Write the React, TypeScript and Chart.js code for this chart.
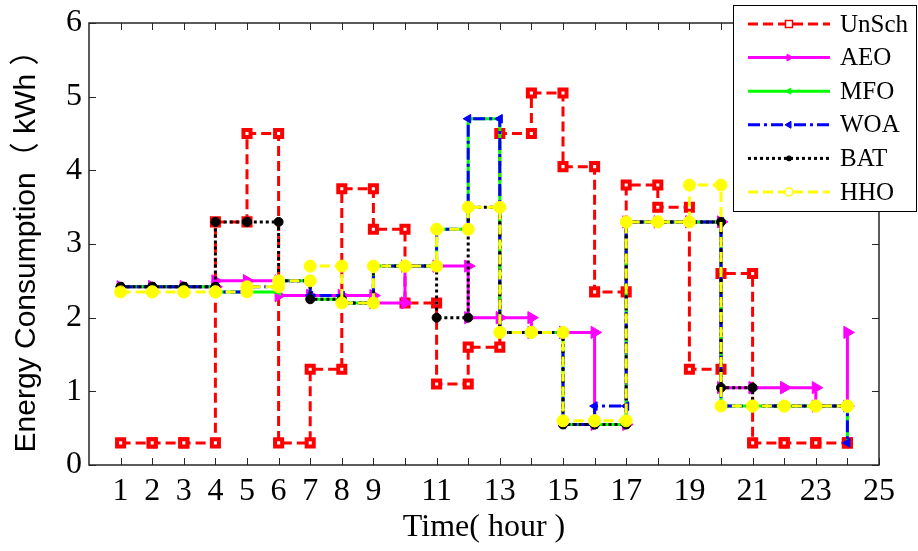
import React, { useEffect, useRef } from 'react';
import { Chart, registerables } from 'chart.js';
import { drawPoint } from 'chart.js/helpers';

Chart.register(...registerables);

// ---- data ----
const hours = [1, 2, 3, 4, 5, 6, 7, 8, 9, 10, 11, 12, 13, 14, 15, 16, 17, 18, 19, 20, 21, 22, 23, 24];
const seriesNames = ['UnSch', 'AEO', 'MFO', 'WOA', 'BAT', 'HHO'];
const unsch = [0.3, 0.3, 0.3, 3.3, 4.5, 0.3, 1.3, 3.75, 3.2, 2.2, 1.1, 1.6, 4.5, 5.05, 4.05, 2.35, 3.8, 3.5, 1.3, 2.6, 0.3, 0.3, 0.3, 0.3];
const aeo = [2.42, 2.42, 2.42, 2.5, 2.5, 2.3, 2.3, 2.3, 2.2, 2.7, 2.7, 2.0, 2.0, 1.8, 1.8, 0.55, 3.3, 3.3, 3.3, 1.05, 1.05, 1.05, 0.8, 1.8];
const mfo = [2.42, 2.42, 2.42, 2.35, 2.35, 2.5, 2.25, 2.2, 2.7, 2.7, 3.2, 4.7, 1.8, 1.8, 0.55, 0.55, 3.3, 3.3, 3.3, 0.8, 0.8, 0.8, 0.8, 0.3];
const woa = [2.42, 2.42, 2.42, 2.35, 2.42, 2.5, 2.3, 2.2, 2.7, 2.7, 3.2, 4.7, 1.8, 1.8, 0.55, 0.8, 3.3, 3.3, 3.3, 0.8, 0.8, 0.8, 0.8, 0.3];
const bat = [2.42, 2.42, 2.42, 3.3, 3.3, 2.5, 2.25, 2.2, 2.7, 2.7, 2.0, 3.5, 1.8, 1.8, 0.55, 0.55, 3.3, 3.3, 3.3, 1.05, 0.8, 0.8, 0.8, 0.8];
const hho = [2.35, 2.35, 2.35, 2.35, 2.42, 2.5, 2.7, 2.2, 2.7, 2.7, 3.2, 3.5, 1.8, 1.8, 0.6, 0.6, 3.3, 3.3, 3.8, 0.8, 0.8, 0.8, 0.8, 0.8];
const xTickLabels = [1, 2, 3, 4, 5, 6, 7, 8, 9, 11, 13, 15, 17, 19, 21, 23, 25];
const yTickValues = [0, 1, 2, 3, 4, 5, 6];

// stairs vertices (like MATLAB stairs): markers at every corner
function stairs(values: number[]) {
  const pts: { x: number; y: number }[] = [];
  for (let i = 0; i < values.length; i++) {
    pts.push({ x: hours[i], y: values[i] });
    if (i < values.length - 1) pts.push({ x: hours[i + 1], y: values[i] });
  }
  return pts;
}

const SERIF = '"Liberation Serif", "Times New Roman", serif';
const SANS = '"Liberation Sans", Arial, "Noto Sans CJK SC", sans-serif';

const styles = [
  { color: '#FF0000', dash: [10, 5], pointStyle: 'rect', rotation: 0, radius: 5, bg: '#FFFFFF', pbw: 4, lr: 5, lbg: '#FFFFFF', lbw: 1.5 },
  { color: '#FF00FF', dash: [], pointStyle: 'triangle', rotation: 90, radius: 7, bg: '#FF00FF', pbw: 1, lr: 4, lbg: '#FF00FF', lbw: 1 },
  { color: '#00FF00', dash: [], pointStyle: 'triangle', rotation: -90, radius: 4, bg: '#00FF00', pbw: 1, lr: 3.5, lbg: '#00FF00', lbw: 1 },
  { color: '#0000FF', dash: [12, 4, 3, 4], pointStyle: 'triangle', rotation: -90, radius: 5, bg: '#0000FF', pbw: 1, lr: 4, lbg: '#0000FF', lbw: 1 },
  { color: '#000000', dash: [3, 3], pointStyle: 'circle', rotation: 0, radius: 4.5, bg: '#000000', pbw: 1, lr: 2.5, lbg: '#000000', lbw: 1 },
  { color: '#FFFF00', dash: [10, 5], pointStyle: 'circle', rotation: 0, radius: 6, bg: '#FFFF00', pbw: 1, lr: 4, lbg: '#FFFFFF', lbw: 1.5 },
];

const seriesValues = [unsch, aeo, mfo, woa, bat, hho];

const framePlugin = {
  id: 'frame',
  afterDatasetsDraw(chart: any) {
    const { ctx, chartArea: a, scales } = chart;
    const x = scales.x;
    const y = scales.y;
    ctx.save();
    ctx.strokeStyle = '#262626';
    ctx.lineWidth = 1;
    ctx.setLineDash([]);
    const seg = (x1: number, y1: number, x2: number, y2: number) => {
      ctx.beginPath();
      ctx.moveTo(x1, y1);
      ctx.lineTo(x2, y2);
      ctx.stroke();
    };
    for (let v = 1; v <= 25; v++) {
      const px = Math.round(x.getPixelForValue(v)) + 0.5;
      seg(px, a.bottom, px, a.bottom - 7);
      seg(px, a.top, px, a.top + 7);
    }
    for (const v of yTickValues) {
      const py = Math.round(y.getPixelForValue(v)) + 0.5;
      seg(a.left, py, a.left + 7, py);
      seg(a.right, py, a.right - 7, py);
    }
    ctx.lineWidth = 1.5;
    ctx.strokeRect(a.left, a.top, a.right - a.left, a.bottom - a.top);
    ctx.restore();
  },
  afterDraw(chart: any) {
    const ctx = chart.ctx;
    ctx.save();
    const bx = 733, by = 5, bw = 184, bh = 207;
    ctx.fillStyle = '#FFFFFF';
    ctx.fillRect(bx, by, bw, bh);
    ctx.strokeStyle = '#000000';
    ctx.lineWidth = 1;
    ctx.setLineDash([]);
    ctx.strokeRect(bx + 0.5, by + 0.5, bw - 1, bh - 1);
    chart.data.datasets.forEach((ds: any, i: number) => {
      const st = styles[i];
      const yy = 24 + i * 33.6;
      ctx.strokeStyle = st.color;
      ctx.lineWidth = 3;
      ctx.setLineDash(st.dash);
      ctx.beginPath();
      ctx.moveTo(748, yy);
      ctx.lineTo(830, yy);
      ctx.stroke();
      ctx.setLineDash([]);
      ctx.fillStyle = st.lbg;
      ctx.strokeStyle = st.color;
      ctx.lineWidth = st.lbw;
      drawPoint(ctx, { pointStyle: st.pointStyle, rotation: st.rotation, radius: st.lr, borderWidth: st.lbw } as any, 789, yy);
      ctx.fillStyle = '#000000';
      ctx.font = `25px ${SERIF}`;
      ctx.textBaseline = 'middle';
      ctx.textAlign = 'left';
      ctx.fillText(ds.label, 840, yy + 1);
    });
    ctx.restore();
  },
};

export default function App() {
  const ref = useRef<HTMLCanvasElement>(null);
  useEffect(() => {
    const datasets = seriesNames.map((name, i) => {
      const st = styles[i];
      return {
        label: name,
        data: stairs(seriesValues[i]),
        borderColor: st.color,
        backgroundColor: st.bg,
        borderWidth: 3,
        borderDash: st.dash,
        pointStyle: st.pointStyle,
        pointRotation: st.rotation,
        pointRadius: st.radius,
        pointBackgroundColor: st.bg,
        pointBorderColor: st.color,
        pointBorderWidth: st.pbw,
        tension: 0,
        fill: false,
        clip: false,
        order: seriesNames.length - i,
      };
    });
    const chart = new Chart(ref.current as HTMLCanvasElement, {
      type: 'line',
      data: { datasets } as any,
      options: {
        responsive: false,
        animation: false,
        events: [],
        layout: { padding: { top: 17, right: 39, left: 0, bottom: 0 } },
        plugins: { legend: { display: false }, tooltip: { enabled: false } },
        scales: {
          x: {
            type: 'linear',
            min: 0,
            max: 25,
            afterFit: (s: any) => { s.height = 86; },
            grid: { display: false, drawTicks: false },
            border: { display: false },
            ticks: {
              stepSize: 1,
              autoSkip: false,
              maxRotation: 0,
              padding: 11,
              color: '#000000',
              font: { family: SERIF, size: 32, lineHeight: 1 },
              callback: (v: any) => (xTickLabels.includes(Number(v)) ? String(v) : ''),
            },
            title: {
              display: true,
              text: 'Time( hour )',
              color: '#000000',
              font: { family: SERIF, size: 32, lineHeight: 1.2 },
              padding: { top: 0, bottom: 4 },
            },
          },
          y: {
            type: 'linear',
            min: 0,
            max: 6,
            afterFit: (s: any) => { s.width = 89; },
            grid: { display: false, drawTicks: false },
            border: { display: false },
            ticks: {
              stepSize: 1,
              padding: 7,
              color: '#000000',
              font: { family: SERIF, size: 32, lineHeight: 1 },
            },
            title: {
              display: true,
              text: 'Energy Consumption（ kWh ）',
              color: '#000000',
              font: { family: SANS, size: 30, lineHeight: 1.2 },
              padding: { top: 9, bottom: 0 },
            },
          },
        },
      } as any,
      plugins: [framePlugin],
    });
    return () => chart.destroy();
  }, []);
  return (
    <div style={{ position: 'fixed', left: 0, top: 0, width: 918, height: 551, background: '#FFFFFF' }}>
      <canvas ref={ref} width={918} height={551} style={{ display: 'block', width: 918, height: 551 }} />
    </div>
  );
}
